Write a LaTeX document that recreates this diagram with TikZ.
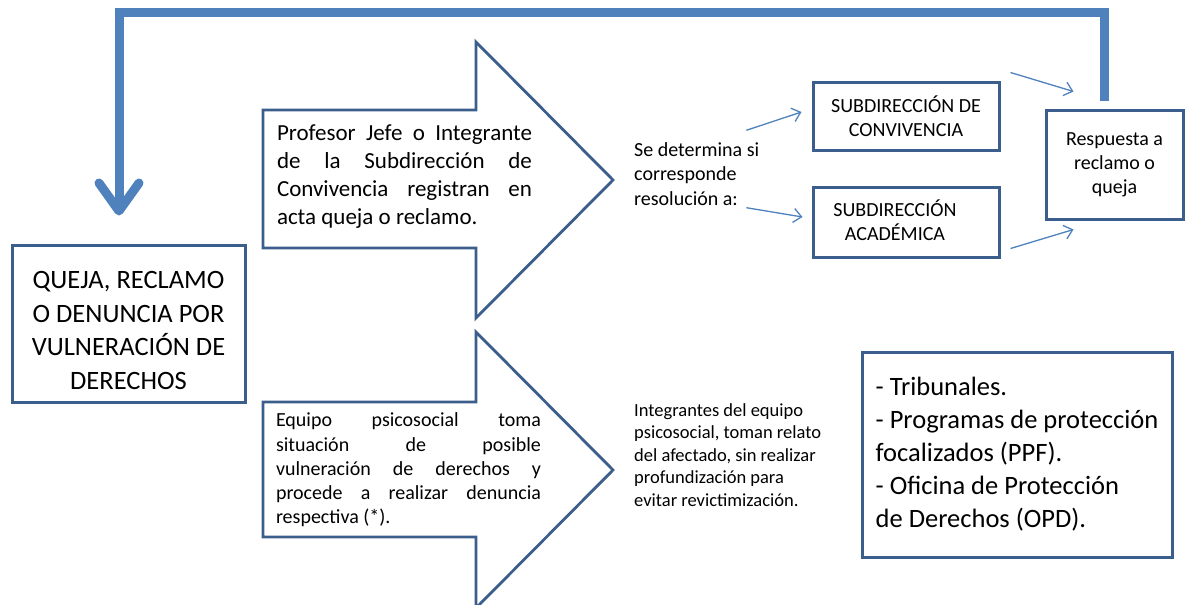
\documentclass[tikz,border=0pt]{standalone}
\usepackage{fontspec}
\setmainfont{Carlito}
\usetikzlibrary{arrows.meta, positioning, calc}

\definecolor{boxblue}{RGB}{59,94,140}
\definecolor{loopblue}{RGB}{79,129,189}

\begin{document}
\begin{tikzpicture}[
    x=1pt, y=-1pt,
    box/.style={rectangle, draw=boxblue, line width=3pt, align=center, inner sep=0pt},
    blockarrow/.style={draw=boxblue, line width=2.8pt, line join=miter},
    flowtext/.style={inner sep=0pt, align=justify},
    note/.style={inner sep=0pt, align=left},
    thinarrow/.style={-{Straight Barb[length=8pt, width=14pt]}, draw=loopblue, line width=1.3pt},
    feedback/.style={-{Straight Barb[round, length=28pt, width=40pt]}, draw=loopblue, line width=9pt}
]
\useasboundingbox (0, 0) rectangle (1192, 605);

% Block arrows
\draw[blockarrow] (263, 110) -- (476, 110) -- (476, 42) -- (613, 180) -- (476, 318) -- (476, 248) -- (263, 248) -- cycle;
\draw[blockarrow] (263, 402) -- (476, 402) -- (476, 332) -- (613, 470) -- (476, 608) -- (476, 537) -- (263, 537) -- cycle;

% Boxes
\node[box, minimum width=233pt, minimum height=157pt,
      label={[yshift=-7pt, align=center, font=\fontsize{26.5}{33.7}\selectfont]center:QUEJA, RECLAMO\\O DENUNCIA POR\\VULNERACIÓN DE\\DERECHOS}] (queja) at (128.5, 323.5) {};
\node[box, minimum width=186pt, minimum height=68pt, font=\fontsize{20}{24}\selectfont] (conv) at (906, 116) {SUBDIRECCIÓN DE\\CONVIVENCIA};
\node[box, minimum width=186pt, minimum height=70pt,
      label={[xshift=-11pt, yshift=2pt, align=center, font=\fontsize{20}{24}\selectfont]center:SUBDIRECCIÓN\\ACADÉMICA}] (acad) at (906, 222) {};
\node[box, minimum width=137pt, minimum height=109pt, font=\fontsize{20}{24}\selectfont] (resp) at (1114.5, 164.5) {Respuesta a\\reclamo o\\queja};
\node[box, align=left, minimum width=310pt, minimum height=205pt, font=\fontsize{26.5}{33}\selectfont] (organismos) at (1017, 454.5) {- Tribunales.\\- Programas de protección\\focalizados (PPF).\\- Oficina de Protección\\de Derechos (OPD).};

% Texts
\node[flowtext, text width=255pt, font=\fontsize{23}{28}\selectfont] (profesor) at (404.5, 177) {Profesor Jefe o Integrante\linebreak de la Subdirección de\linebreak Convivencia registran en\linebreak acta queja o reclamo.};
\node[flowtext, text width=265pt, font=\fontsize{20}{24.3}\selectfont] (equipo) at (408.5, 470) {Equipo psicosocial toma\linebreak situación de posible\linebreak vulneración de derechos y\linebreak procede a realizar denuncia\linebreak respectiva (*).};
\node[note, anchor=west, font=\fontsize{20}{24.5}\selectfont] (sedet) at (634, 174) {Se determina si\\corresponde\\resolución a:};
\node[note, anchor=west, font=\fontsize{18.5}{22.5}\selectfont] (integrantes) at (634, 455) {Integrantes del equipo\\psicosocial, toman relato\\del afectado, sin realizar\\profundización para\\evitar revictimización.};

% Connectors
\draw[thinarrow] ([shift={(-13pt,12pt)}]sedet.north east) -- ([shift={(-10pt,4pt)}]conv.west);
\draw[thinarrow] ([shift={(-13pt,-2pt)}]sedet.south east) -- ([shift={(-9pt,5pt)}]acad.west);
\draw[thinarrow] ([shift={(10pt,8pt)}]conv.north east) -- ([shift={(29pt,17pt)}]resp.north west);
\draw[thinarrow] ([shift={(10pt,10pt)}]acad.south east) -- ([shift={(29pt,-9pt)}]resp.south west);

% Feedback loop
\draw[feedback] ([shift={(-10.5pt,8pt)}]resp.north) -- ++(0, -88) -| ([shift={(-9.5pt,28pt)}]queja.north);

\end{tikzpicture}
\end{document}
